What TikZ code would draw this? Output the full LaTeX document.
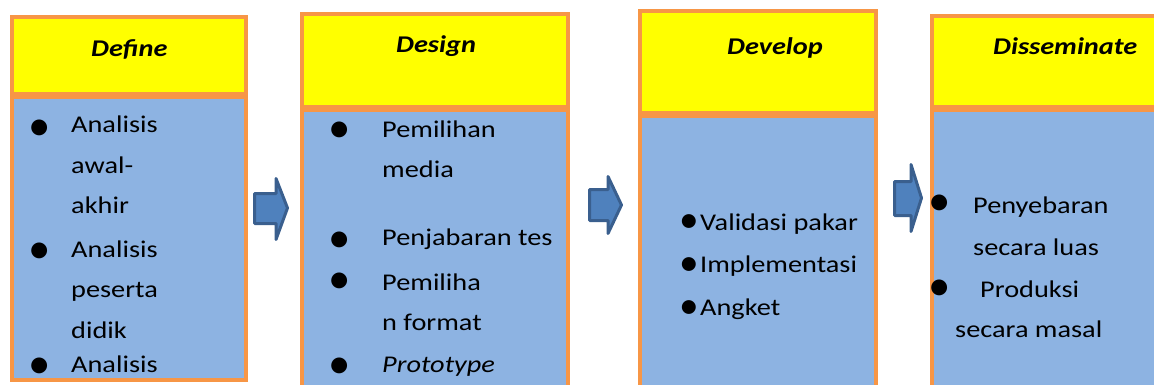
\documentclass[tikz,border=0pt]{standalone}
\usepackage{fontspec}
\setmainfont{Carlito}[FakeStretch=1.18]
\definecolor{hdr}{HTML}{FFFF00}
\definecolor{bdy}{HTML}{8DB3E2}
\definecolor{brd}{HTML}{F79646}
\definecolor{arf}{HTML}{4F81BD}
\definecolor{ard}{HTML}{3A5F8E}
\newcommand{\mybul}{\scalebox{1.65}[1.95]{•}}
\newcommand{\mysbul}{\scalebox{1.45}[1.7]{•}}
\begin{document}
\begin{tikzpicture}[x=1pt,y=-1pt,
  hbox/.style={draw=brd,fill=hdr,line width=3.5pt},
  bbox/.style={draw=brd,fill=bdy,line width=3.5pt},
  txt/.style={anchor=base west,inner sep=0pt,font=\fontsize{24}{24}\selectfont},
  ttl/.style={anchor=base west,inner sep=0pt,font=\fontsize{24}{24}\selectfont\bfseries\itshape},
  blt/.style={anchor=base,inner sep=0pt,font=\fontsize{23}{23}\selectfont},
  barrow/.style={draw=ard,fill=arf,line width=3pt,line join=round}]
\useasboundingbox (0,0) rectangle (1154,385);
\clip (0,0) rectangle (1154,385);
% Box 1: Define
\draw[hbox] (12,17) rectangle (246,94);
\draw[bbox] (12,97) rectangle (246,380);
\node[ttl] (t1) at (91,57) {Define};
\node[blt] (b11) at (40,140.5) {\mybul};
\node[txt] (l11) at (71,133) {Analisis};
\node[txt] (l12) at (71,174) {awal-};
\node[txt] (l13) at (71,213) {akhir};
\node[blt] (b12) at (40,263.5) {\mybul};
\node[txt] (l14) at (71,257) {Analisis};
\node[txt] (l15) at (71,297) {peserta};
\node[txt] (l16) at (71,338) {didik};
\node[blt] (b13) at (40,378) {\mybul};
\node[txt] (l17) at (71,372) {Analisis};
% Box 2: Design
\draw[hbox] (302,14) rectangle (568,107);
\draw[bbox] (302,110) rectangle (568,400);
\node[ttl] (t2) at (396,53) {Design};
\node[blt] (b21) at (340,142.5) {\mybul};
\node[txt] (l21) at (382,138) {Pemilihan};
\node[txt] (l22) at (382,177) {media};
\node[blt] (b22) at (340,252.5) {\mybul};
\node[txt] (l23) at (382,245) {Penjabaran tes};
\node[blt] (b23) at (340,293.5) {\mybul};
\node[txt] (l24) at (382,290) {Pemiliha};
\node[txt] (l25) at (382,330) {n format};
\node[blt] (b24) at (340,378) {\mybul};
\node[txt] (l26) at (382,372) {\itshape Prototype};
% Box 3: Develop
\draw[hbox] (640,11) rectangle (876,113);
\draw[bbox] (640,116) rectangle (876,400);
\node[ttl] (t3) at (727,55) {Develop};
\node[blt] (b31) at (689,232) {\mysbul};
\node[txt] (l31) at (700,230) {Validasi pakar};
\node[blt] (b32) at (689,275) {\mysbul};
\node[txt] (l32) at (700,272) {Implementasi};
\node[blt] (b33) at (689,318) {\mysbul};
\node[txt] (l33) at (700,315) {Angket};
% Box 4: Disseminate
\draw[hbox] (932,16) rectangle (1170,107);
\draw[bbox] (932,110) rectangle (1170,400);
\node[ttl] (t4) at (993,55) {Disseminate};
\node[blt] (b41) at (940,215.5) {\mybul};
\node[txt] (l41) at (973,213) {Penyebaran};
\node[txt] (l42) at (973,255) {secara luas};
\node[blt] (b42) at (940,300.5) {\mybul};
\node[txt] (l43) at (980,297) {Produksi};
\node[txt] (l44) at (955,337) {secara masal};
% Arrows
\draw[barrow] (254.5,193.5) -- (276,193.5) -- (276,178.5) -- (287.5,208) -- (276,239.5) -- (276,223.5) -- (254.5,223.5) -- cycle;
\draw[barrow] (589.5,189.5) -- (608,189.5) -- (608,176.5) -- (621.5,205) -- (608,233.5) -- (608,220.5) -- (589.5,220.5) -- cycle;
\draw[barrow] (894.5,181.5) -- (911,181.5) -- (911,164.5) -- (921.5,198) -- (911,231.5) -- (911,215.5) -- (894.5,215.5) -- cycle;
\end{tikzpicture}
\end{document}
